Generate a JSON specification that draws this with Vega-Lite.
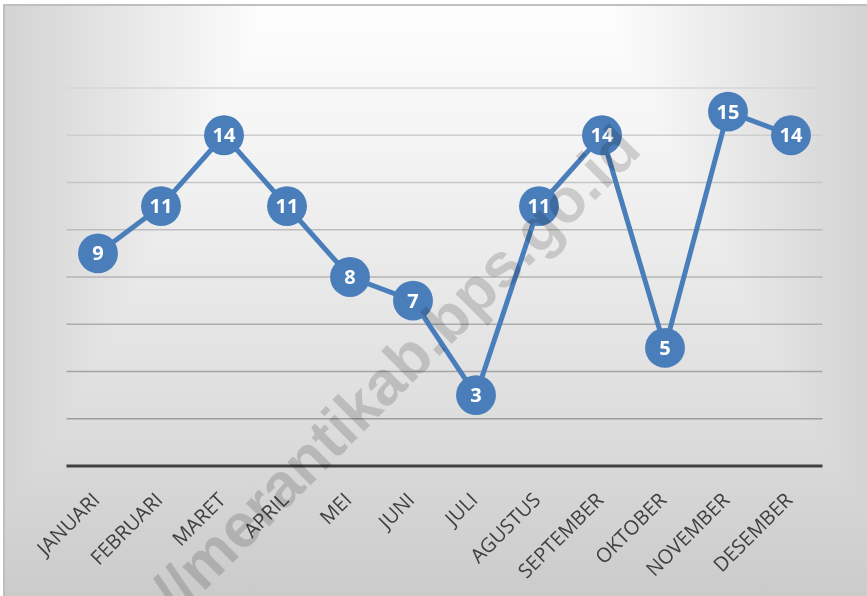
{
  "$schema": "https://vega.github.io/schema/vega-lite/v6.json",
  "width": 867,
  "height": 596,
  "autosize": {"type": "none"},
  "padding": 0,
  "background": "white",
  "config": {"view": {"stroke": null}},
  "datasets": {
    "months": [
      {"month": "JANUARI", "i": 0, "value": 9},
      {"month": "FEBRUARI", "i": 1, "value": 11},
      {"month": "MARET", "i": 2, "value": 14},
      {"month": "APRIL", "i": 3, "value": 11},
      {"month": "MEI", "i": 4, "value": 8},
      {"month": "JUNI", "i": 5, "value": 7},
      {"month": "JULI", "i": 6, "value": 3},
      {"month": "AGUSTUS", "i": 7, "value": 11},
      {"month": "SEPTEMBER", "i": 8, "value": 14},
      {"month": "OKTOBER", "i": 9, "value": 5},
      {"month": "NOVEMBER", "i": 10, "value": 15},
      {"month": "DESEMBER", "i": 11, "value": 14}
    ],
    "grid": [{"v": 2}, {"v": 4}, {"v": 6}, {"v": 8}, {"v": 10}, {"v": 12}, {"v": 14}, {"v": 16}],
    "base": [{"v": 0}],
    "frame": [{"name": "chart"}],
    "watermark": [{"text": "http://merantikab.bps.go.id"}]
  },
  "layer": [
    {
      "data": {"name": "frame"},
      "mark": {"type": "rect", "fill": {"gradient": "linear", "x1": 0, "y1": 0, "x2": 1, "y2": 0, "stops": [{"offset": 0, "color": "#d3d3d3"}, {"offset": 0.3, "color": "#fdfdfd"}, {"offset": 0.7, "color": "#fdfdfd"}, {"offset": 1, "color": "#d3d3d3"}]}},
      "encoding": {
        "x": {"datum": -1.4921, "type": "quantitative", "scale": {"domain": [-1.5556, 12.2063], "nice": false, "zero": false}, "axis": null},
        "x2": {"datum": 12.2063},
        "y": {"datum": 19.534, "type": "quantitative", "scale": {"domain": [-5.5026, 19.7249], "nice": false, "zero": false}, "axis": null},
        "y2": {"datum": -5.5026}
      }
    },
    {
      "data": {"name": "frame"},
      "mark": {"type": "rect", "blend": "darken", "fill": {"gradient": "linear", "x1": 0, "y1": 0, "x2": 0, "y2": 1, "stops": [{"offset": 0, "color": "#fefefe"}, {"offset": 0.25, "color": "#f3f3f3"}, {"offset": 0.65, "color": "#e0e0e0"}, {"offset": 1, "color": "#cbcbcb"}]}},
      "encoding": {
        "x": {"datum": -1.4921, "type": "quantitative", "scale": {"domain": [-1.5556, 12.2063], "nice": false, "zero": false}, "axis": null},
        "x2": {"datum": 12.2063},
        "y": {"datum": 19.534, "type": "quantitative", "scale": {"domain": [-5.5026, 19.7249], "nice": false, "zero": false}, "axis": null},
        "y2": {"datum": -5.5026}
      }
    },
    {
      "data": {"name": "frame"},
      "mark": {"type": "rect", "filled": false, "color": "#bfbfbf", "strokeWidth": 2},
      "encoding": {
        "x": {"datum": -1.4921, "type": "quantitative", "scale": {"domain": [-1.5556, 12.2063], "nice": false, "zero": false}, "axis": null},
        "x2": {"datum": 12.6},
        "y": {"datum": 19.513, "type": "quantitative", "scale": {"domain": [-5.5026, 19.7249], "nice": false, "zero": false}, "axis": null},
        "y2": {"datum": -7}
      }
    },
    {
      "data": {"name": "grid"},
      "mark": {"type": "rule", "strokeWidth": 1.5},
      "encoding": {
        "x": {"datum": -0.5, "type": "quantitative", "scale": {"domain": [-1.5556, 12.2063], "nice": false, "zero": false}, "axis": null},
        "x2": {"datum": 11.5},
        "y": {"field": "v", "type": "quantitative", "scale": {"domain": [-5.5026, 19.7249], "nice": false, "zero": false}, "axis": null},
        "color": {"field": "v", "type": "quantitative", "scale": {"domain": [2, 16], "range": ["#9c9c9c", "#d6d6d6"]}, "legend": null}
      }
    },
    {
      "data": {"name": "base"},
      "mark": {"type": "rule", "strokeWidth": 3, "color": "#404040"},
      "encoding": {
        "x": {"datum": -0.5, "type": "quantitative", "scale": {"domain": [-1.5556, 12.2063], "nice": false, "zero": false}, "axis": null},
        "x2": {"datum": 11.5},
        "y": {"field": "v", "type": "quantitative", "scale": {"domain": [-5.5026, 19.7249], "nice": false, "zero": false}, "axis": null}
      }
    },
    {
      "data": {"name": "months"},
      "mark": {"type": "line", "color": "#4a7ebb", "strokeWidth": 5},
      "encoding": {
        "x": {"field": "i", "type": "quantitative", "scale": {"domain": [-1.5556, 12.2063], "nice": false, "zero": false}, "axis": null},
        "y": {"field": "value", "type": "quantitative", "scale": {"domain": [-5.5026, 19.7249], "nice": false, "zero": false}, "axis": null}
      }
    },
    {
      "data": {"name": "months"},
      "mark": {"type": "point", "shape": "circle", "filled": true, "opacity": 1, "size": 1590, "color": "#4a7ebb"},
      "encoding": {
        "x": {"field": "i", "type": "quantitative", "scale": {"domain": [-1.5556, 12.2063], "nice": false, "zero": false}, "axis": null},
        "y": {"field": "value", "type": "quantitative", "scale": {"domain": [-5.5026, 19.7249], "nice": false, "zero": false}, "axis": null}
      }
    },
    {
      "data": {"name": "months"},
      "mark": {"type": "text", "font": "Open Sans", "fontWeight": "bold", "fontSize": 20, "color": "white", "align": "center", "baseline": "middle", "dy": 1},
      "encoding": {
        "x": {"field": "i", "type": "quantitative", "scale": {"domain": [-1.5556, 12.2063], "nice": false, "zero": false}, "axis": null},
        "y": {"field": "value", "type": "quantitative", "scale": {"domain": [-5.5026, 19.7249], "nice": false, "zero": false}, "axis": null},
        "text": {"field": "value", "type": "quantitative"}
      }
    },
    {
      "data": {"name": "months"},
      "mark": {"type": "text", "font": "Open Sans", "fontSize": 20, "color": "#404040", "align": "right", "baseline": "middle", "angle": -45, "dx": -2},
      "encoding": {
        "x": {"field": "i", "type": "quantitative", "scale": {"domain": [-1.5556, 12.2063], "nice": false, "zero": false}, "axis": null},
        "y": {"datum": -1.25, "type": "quantitative", "scale": {"domain": [-5.5026, 19.7249], "nice": false, "zero": false}, "axis": null},
        "text": {"field": "month", "type": "nominal"}
      }
    },
    {
      "data": {"name": "watermark"},
      "mark": {"type": "text", "font": "Liberation Sans", "fontWeight": "bold", "fontSize": 62, "color": "black", "opacity": 0.15, "align": "center", "baseline": "middle", "angle": -45},
      "encoding": {
        "x": {"datum": 3.98, "type": "quantitative", "scale": {"domain": [-1.5556, 12.2063], "nice": false, "zero": false}, "axis": null},
        "y": {"datum": 1.95, "type": "quantitative", "scale": {"domain": [-5.5026, 19.7249], "nice": false, "zero": false}, "axis": null},
        "text": {"field": "text", "type": "nominal"}
      }
    }
  ]
}
